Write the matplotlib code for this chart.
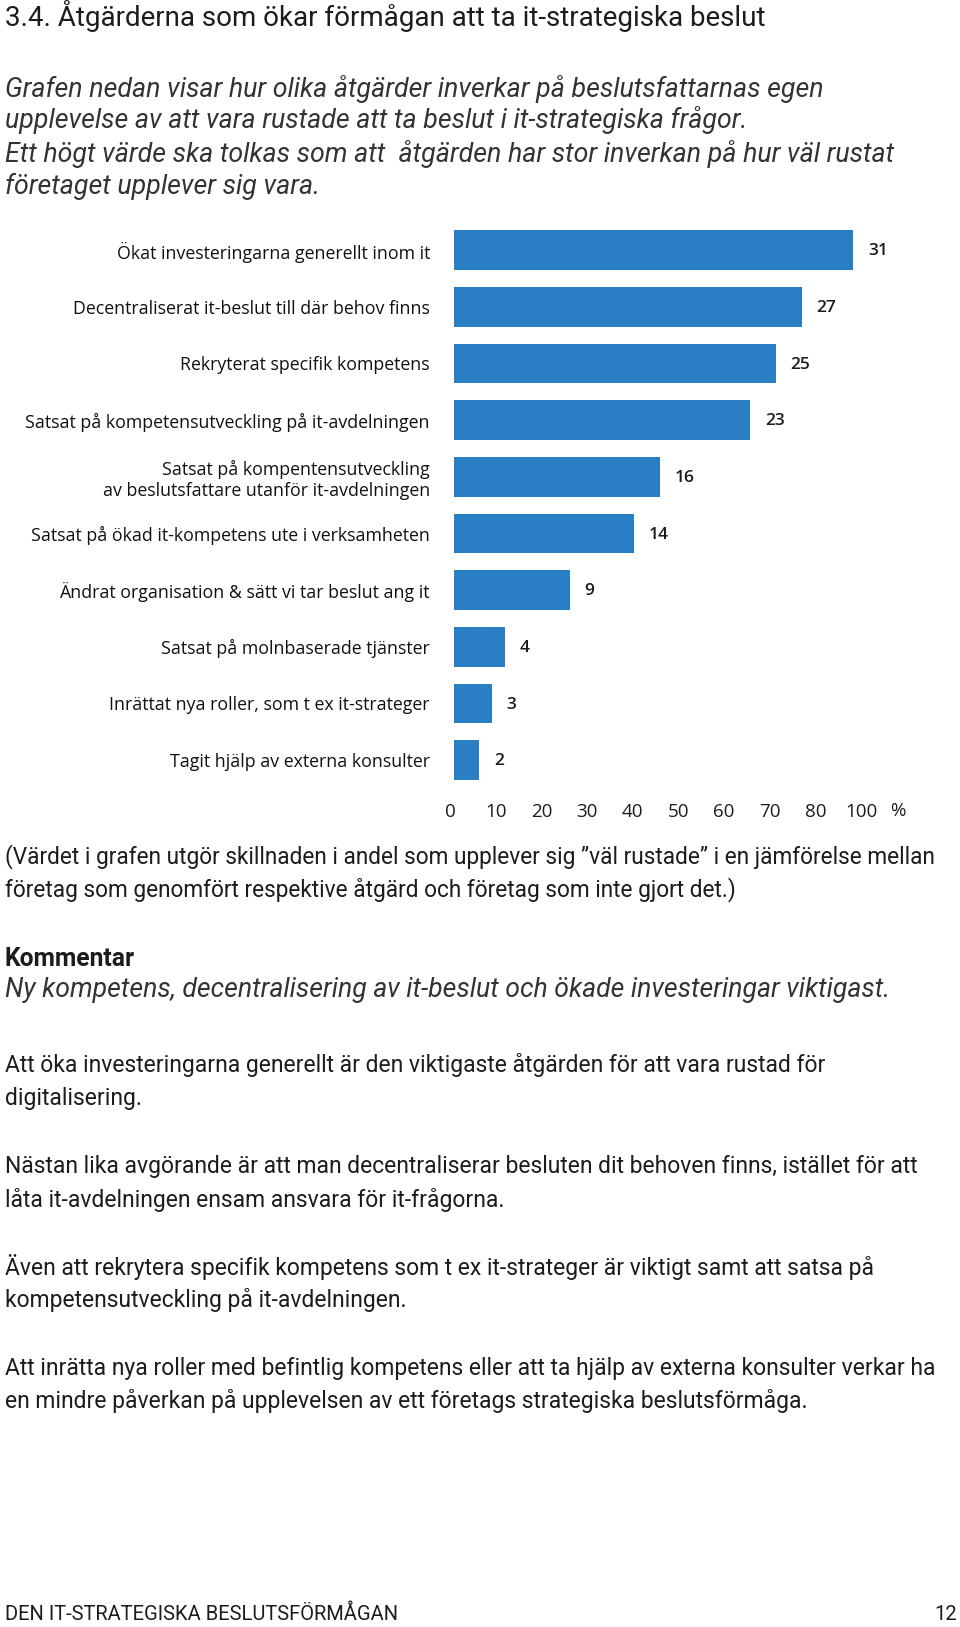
import matplotlib
matplotlib.use("Agg")
import matplotlib.pyplot as plt

# data
kategorier = [
    "Ökat investeringarna generellt inom it",
    "Decentraliserat it-beslut till där behov finns",
    "Rekryterat specifik kompetens",
    "Satsat på kompetensutveckling på it-avdelningen",
    "Satsat på kompentensutveckling\nav beslutsfattare utanför it-avdelningen",
    "Satsat på ökad it-kompetens ute i verksamheten",
    "Ändrat organisation & sätt vi tar beslut ang it",
    "Satsat på molnbaserade tjänster",
    "Inrättat nya roller, som t ex it-strateger",
    "Tagit hjälp av externa konsulter",
]
varden = [31, 27, 25, 23, 16, 14, 9, 4, 3, 2]
skala_etiketter = ["0", "10", "20", "30", "40", "50", "60", "70", "80", "100"]

rubrik = "3.4. Åtgärderna som ökar förmågan att ta it-strategiska beslut"
ingress = [
    "Grafen nedan visar hur olika åtgärder inverkar på beslutsfattarnas egen",
    "upplevelse av att vara rustade att ta beslut i it-strategiska frågor.",
    "Ett högt värde ska tolkas som att  åtgärden har stor inverkan på hur väl rustat",
    "företaget upplever sig vara.",
]
not_rader = [
    "(Värdet i grafen utgör skillnaden i andel som upplever sig ”väl rustade” i en jämförelse mellan",
    "företag som genomfört respektive åtgärd och företag som inte gjort det.)",
]
kommentar_rubrik = "Kommentar"
kommentar_ingress = "Ny kompetens, decentralisering av it-beslut och ökade investeringar viktigast."
stycken = [
    ["Att öka investeringarna generellt är den viktigaste åtgärden för att vara rustad för",
     "digitalisering."],
    ["Nästan lika avgörande är att man decentraliserar besluten dit behoven finns, istället för att",
     "låta it-avdelningen ensam ansvara för it-frågorna."],
    ["Även att rekrytera specifik kompetens som t ex it-strateger är viktigt samt att satsa på",
     "kompetensutveckling på it-avdelningen."],
    ["Att inrätta nya roller med befintlig kompetens eller att ta hjälp av externa konsulter verkar ha",
     "en mindre påverkan på upplevelsen av ett företags strategiska beslutsförmåga."],
]
sidfot = "DEN IT-STRATEGISKA BESLUTSFÖRMÅGAN"
sidnummer = "12"

W, H = 960, 1627
fig = plt.figure(figsize=(W / 100, H / 100), dpi=100)
plt.rcParams["font.family"] = ["Roboto", "DejaVu Sans"]
GRAF_FONT = ["Open Sans", "DejaVu Sans"]

BLA = "#2a7ec4"
TEXT = "#1c1c1c"


def px(x, y):
    return x / W, 1 - y / H


def txt(x, y, s, **kw):
    fx, fy = px(x, y)
    fig.text(fx, fy, s, va="center", **kw)


# rubrik och ingress
txt(5, 16, rubrik, fontsize=20, color=TEXT)
for i, rad in enumerate(ingress):
    txt(5, [89, 120, 154, 186][i], rad, fontsize=19.3, style="italic", color="#333333")

# staplar
x0, enhet = 453.5, 12.9
steg = 56.67
topp = 250 - steg / 2
ax = fig.add_axes([x0 / W, 1 - (topp + steg * 10) / H, 500 / W, steg * 10 / H])
ax.barh(range(len(varden)), varden, height=0.7, color=BLA)
ax.set_xlim(0, 500 / enhet)
ax.set_ylim(len(varden) - 0.5, -0.5)
ax.set_yticks(range(len(kategorier)), kategorier, fontsize=12.8, color="#111111",
              family=GRAF_FONT)
ax.tick_params(axis="y", length=0, pad=17)
ax.set_xticks([])
for s in ax.spines.values():
    s.set_visible(False)
for i, v in enumerate(varden):
    ax.annotate(str(v), (v, i), xytext=(10.5, -1), textcoords="offset points",
                va="center", ha="left", fontsize=12.5, color=TEXT, family=GRAF_FONT,
                fontweight="semibold")

# skala (utan koppling till staplarna, som i originalet)
ax2 = fig.add_axes([450 / W, 1 - 812 / H, 411 / W, 0.0001])
ax2.set_xlim(0, len(skala_etiketter) - 1)
ax2.set_xticks(range(len(skala_etiketter)), skala_etiketter, fontsize=13.5, color=TEXT,
               family=GRAF_FONT)
ax2.tick_params(axis="x", length=0, pad=0)
ax2.set_yticks([])
for s in ax2.spines.values():
    s.set_visible(False)
for lbl in ax2.get_xticklabels():
    lbl.set_va("center")
txt(890, 811, "%", fontsize=13.5, color=TEXT, family=GRAF_FONT)

# text under grafen
for i, rad in enumerate(not_rader):
    txt(5, [857, 890][i], rad, fontsize=16.3, color=TEXT)
txt(5, 959, kommentar_rubrik, fontsize=17.7, fontweight="bold", color=TEXT)
txt(5, 990, kommentar_ingress, fontsize=19.2, style="italic", color="#333333")
ypos = [(1065, 1098), (1166, 1200), (1267, 1300), (1368, 1401)]
for st, yy in zip(stycken, ypos):
    for rad, y in zip(st, yy):
        txt(5, y, rad, fontsize=16.45, color=TEXT)

txt(5, 1614, sidfot, fontsize=14.5, color=TEXT)
fx, fy = px(957, 1614)
fig.text(fx, fy, sidnummer, va="center", ha="right", fontsize=14.5, color=TEXT)

fig.savefig("out.png", dpi=100)
